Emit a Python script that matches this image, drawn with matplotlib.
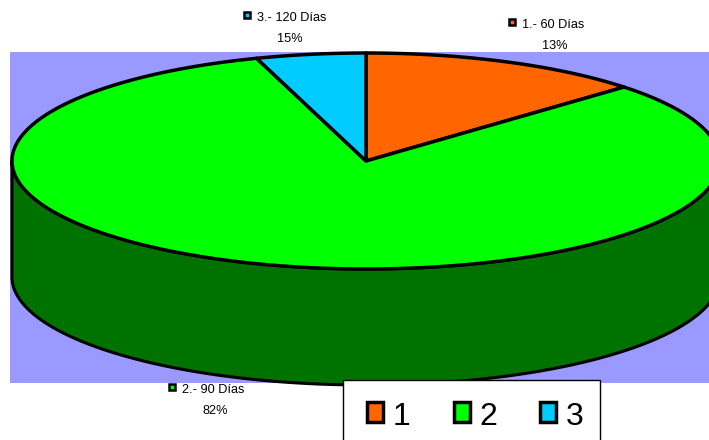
import numpy as np
import matplotlib
matplotlib.use('Agg')
import matplotlib.pyplot as plt
from matplotlib.patches import Polygon, Rectangle

plt.rcParams['font.family'] = ['Liberation Sans', 'DejaVu Sans']

# data
categories = ['1', '2', '3']
values = [13, 82, 5]
slice_names = ['1.- 60 Días', '2.- 90 Días', '3.- 120 Días']
pct_labels = ['13%', '82%', '15%']
top_colors = ['#FF6600', '#00FF00', '#00CCFF']
side_colors = ['#803300', '#007200', '#006680']

# layout (pixels, y down)
cx, cy = 366, 161
rx, ry = 354, 108
depth = 116
label_pos = [(512, 22), (172, 387), (247, 15)]

fig = plt.figure(figsize=(7.09, 4.40), dpi=100)
ax = fig.add_axes([0, 0, 1, 1])
ax.set_xlim(0, 709)
ax.set_ylim(440, 0)
ax.axis('off')

# plot area background
ax.add_patch(Rectangle((10, 52), 720, 331, facecolor='#9999FF', edgecolor='none', zorder=0))


def arc(t1, t2, n=300, dy=0):
	t = np.radians(np.linspace(t1, t2, n))
	return np.column_stack([cx + rx*np.cos(t), cy - ry*np.sin(t) + dy])


# slice angles, clockwise from 12 o'clock
fracs = np.array(values, float)/sum(values)
starts = 90 - 360*np.concatenate([[0], np.cumsum(fracs)[:-1]])
ends = starts - 360*fracs

# side walls (front half only)
for i in range(len(values)):
	t = np.linspace(starts[i], ends[i], 720)
	front = np.sin(np.radians(t)) <= 1e-9
	if not front.any():
		continue
	idx = np.where(front)[0]
	runs = np.split(idx, np.where(np.diff(idx) > 1)[0] + 1)
	for r in runs:
		top = arc(t[r[0]], t[r[-1]])
		bot = arc(t[r[-1]], t[r[0]], dy=depth)
		ax.add_patch(Polygon(np.vstack([top, bot]), closed=True, facecolor=side_colors[i],
			edgecolor='black', lw=2.2, joinstyle='round', zorder=2))

# top faces
for i in range(len(values)):
	pts = np.vstack([[cx, cy], arc(starts[i], ends[i])])
	ax.add_patch(Polygon(pts, closed=True, facecolor=top_colors[i], edgecolor='black',
		lw=2.5, joinstyle='round', zorder=3))

# data labels
for i in range(len(values)):
	lx, ly = label_pos[i]
	ax.add_patch(Rectangle((lx-3, ly-3), 6, 6, facecolor=top_colors[i], edgecolor='black',
		lw=1.8, zorder=5))
	ax.text(lx+10, ly+6, slice_names[i], fontsize=9.2, ha='left', va='baseline', zorder=5)
	ax.text(lx+43, ly+27, pct_labels[i], fontsize=9.2, ha='center', va='baseline', zorder=5)

# legend
ax.add_patch(Rectangle((343, 380), 257, 70, facecolor='white', edgecolor='black', lw=1, zorder=6))
for i, cat in enumerate(categories):
	x0 = 367 + 86.5*i
	ax.add_patch(Rectangle((x0, 402), 16, 20, facecolor=top_colors[i], edgecolor='black',
		lw=2.5, zorder=7))
	ax.text(x0 + 26, 425, cat, fontsize=23, ha='left', va='baseline', zorder=7)

fig.savefig('out.png', dpi=100, facecolor='white')
